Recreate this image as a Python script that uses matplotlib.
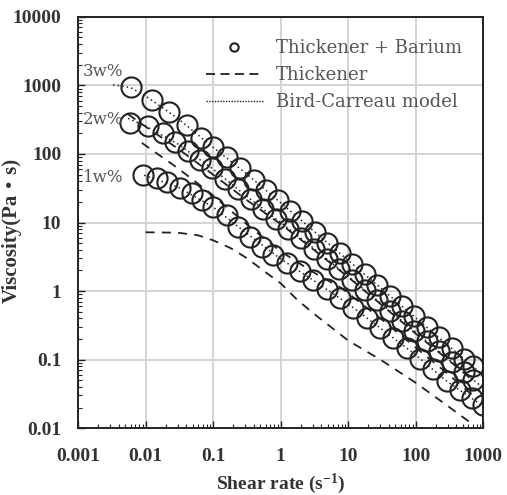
import matplotlib
matplotlib.use("Agg")
import matplotlib.pyplot as plt
from matplotlib.lines import Line2D
from matplotlib import rc
from matplotlib.ticker import LogLocator, NullFormatter

rc('mathtext', default='regular')

# thickener + barium, measured points
rate_3w = [0.0061, 0.0125, 0.022, 0.041, 0.066, 0.1, 0.16, 0.25, 0.4, 0.6, 0.9, 1.4, 2.1,
           3.2, 4.9, 7.5, 11.5, 17.5, 27, 41, 63, 95, 145, 220, 340, 520, 700]
visc_3w = [950, 614, 410, 265, 171, 125, 90, 62, 41.7, 29.7, 21.2, 14.6, 10.4,
           7.3, 5.1, 3.58, 2.5, 1.76, 1.22, 0.86, 0.6, 0.427, 0.3, 0.211, 0.147, 0.103, 0.08]

rate_2w = [0.0059, 0.011, 0.018, 0.027, 0.043, 0.064, 0.095, 0.15, 0.23, 0.36, 0.55, 0.85, 1.3,
           2.0, 3.1, 4.8, 7.4, 11.4, 17.5, 27, 41, 63, 95, 145, 220, 340, 520, 710]
visc_2w = [280, 255, 200, 150, 110, 82, 62, 43, 30.9, 21.9, 15.8, 11.3, 8.15,
           5.86, 4.17, 2.98, 2.1, 1.47, 1.04, 0.73, 0.52, 0.367, 0.263, 0.186, 0.133, 0.093, 0.066, 0.051]

rate_1w = [0.0092, 0.0148, 0.0208, 0.0325, 0.0489, 0.0687, 0.1, 0.161, 0.234, 0.353, 0.531, 0.774,
           1.25, 1.94, 3.03, 4.88, 7.6, 11.9, 19.1, 29.8, 46.4, 74.8, 117, 182, 293, 456, 687, 1000]
visc_1w = [49.4, 44.7, 39, 31.9, 27, 21.3, 16.8, 12.9, 8.6, 6.14, 4.39, 3.36,
           2.56, 1.96, 1.45, 1.07, 0.79, 0.565, 0.404, 0.288, 0.206, 0.147, 0.102, 0.0726, 0.0485, 0.0359, 0.0274, 0.0217]

# thickener only (dashed)
th_rate_3w = [0.0055, 0.01, 0.03, 0.1, 0.3, 1, 3, 10, 30, 100, 300, 700]
th_visc_3w = [380, 250, 120, 50, 22, 9.5, 4.1, 1.6, 0.65, 0.24, 0.1, 0.05]
th_rate_2w = [0.0088, 0.03, 0.09, 0.35, 1, 3, 8, 30, 100, 300, 700]
th_visc_2w = [145, 62, 27, 8.6, 3.8, 1.9, 1.1, 0.4, 0.15, 0.062, 0.03]
th_rate_1w = [0.01, 0.03, 0.06, 0.1, 0.18, 0.32, 0.55, 1, 1.75, 3, 10, 30, 100, 300, 650]
th_visc_1w = [7.2, 7.1, 6.5, 5.5, 4.25, 3.0, 2.0, 1.3, 0.75, 0.48, 0.19, 0.1, 0.046, 0.021, 0.012]

# Bird-Carreau fits (dotted)
bc_rate_3w = [0.0033, 0.006, 0.01, 0.03, 0.1, 0.3, 1, 3, 10, 30, 100, 300, 1000]
bc_visc_3w = [1020, 930, 700, 330, 125, 53, 19.4, 7.7, 2.81, 1.12, 0.407, 0.163, 0.059]
bc_rate_2w = [0.0055, 0.01, 0.03, 0.1, 0.3, 1, 3, 10, 30, 100, 300, 1000]
bc_visc_2w = [330, 255, 140, 60, 25, 10, 4.3, 1.64, 0.67, 0.252, 0.103, 0.0386]
bc_rate_1w = [0.0095, 0.03, 0.1, 0.3, 1, 3, 10, 30, 100, 300, 1000]
bc_visc_1w = [49, 33, 16.8, 7.2, 2.95, 1.45, 0.65, 0.288, 0.117, 0.047, 0.021]

labels = ['3w%', '2w%', '1w%']
label_pos = [(0.00118, 1575), (0.00118, 313), (0.00118, 46)]

ink = '#222222'
grey_text = '#555555'
serif = ['Liberation Serif', 'Noto Sans CJK JP']

fig = plt.figure(figsize=(5.07, 4.95), dpi=100)
ax = fig.add_axes([0.154, 0.135, 0.799, 0.831])
ax.set_xscale('log')
ax.set_yscale('log')
ax.set_xlim(0.001, 1000)
ax.set_ylim(0.01, 10000)

ax.grid(True, which='major', color='#d4d4d4', linewidth=1.4, zorder=0)
ax.set_axisbelow(True)

for r, v in [(th_rate_3w, th_visc_3w), (th_rate_2w, th_visc_2w), (th_rate_1w, th_visc_1w)]:
    ax.plot(r, v, color=ink, linestyle=(0, (5, 4)), linewidth=1.3, zorder=2)
for r, v in [(bc_rate_3w, bc_visc_3w), (bc_rate_2w, bc_visc_2w), (bc_rate_1w, bc_visc_1w)]:
    ax.plot(r, v, color=ink, linestyle=(0, (1, 2)), linewidth=1.1, zorder=2)
for r, v in [(rate_3w, visc_3w), (rate_2w, visc_2w), (rate_1w, visc_1w)]:
    ax.plot(r, v, linestyle='none', marker='o', markersize=14.5, markerfacecolor='none',
            markeredgecolor=ink, markeredgewidth=1.5, zorder=3)

for lab, (x, y) in zip(labels, label_pos):
    ax.text(x, y, lab, fontsize=12, family='DejaVu Serif', color=grey_text,
            va='center', ha='left')

# ticks
ax.xaxis.set_minor_locator(LogLocator(base=10, subs=range(2, 10), numticks=20))
ax.yaxis.set_minor_locator(LogLocator(base=10, subs=range(2, 10), numticks=20))
ax.xaxis.set_minor_formatter(NullFormatter())
ax.yaxis.set_minor_formatter(NullFormatter())
ax.set_xticks([0.001, 0.01, 0.1, 1, 10, 100, 1000])
ax.set_xticklabels(['0.001', '0.01', '0.1', '1', '10', '100', '1000'])
ax.set_yticks([0.01, 0.1, 1, 10, 100, 1000, 10000])
ax.set_yticklabels(['0.01', '0.1', '1', '10', '100', '1000', '10000'])
ax.tick_params(which='major', direction='in', length=5, width=1, colors=ink)
ax.tick_params(which='minor', direction='in', length=3, width=0.8, colors=ink)
ax.tick_params(axis='x', which='major', pad=14)
ax.tick_params(axis='y', which='major', pad=12)
for t in ax.get_xticklabels() + ax.get_yticklabels():
    t.set_family(serif)
    t.set_fontweight('bold')
    t.set_fontsize(14)
    t.set_color('#333333')

for s in ax.spines.values():
    s.set_color(ink)
    s.set_linewidth(1.4)

ax.set_xlabel('Shear rate (s$^{-1}$)', family=serif, fontweight='bold',
              fontsize=14, color='#333333')
ax.xaxis.set_label_coords(0.5, -0.105)
ax.set_ylabel('Viscosity(Pa・s)', family=serif, fontweight='bold',
              fontsize=15, color='#333333')
ax.yaxis.set_label_coords(-0.138, 0.48)

handles = [
    Line2D([], [], linestyle='none', marker='o', markersize=6, markerfacecolor='none',
           markeredgecolor=ink, markeredgewidth=1.5),
    Line2D([], [], color=ink, linestyle=(0, (5, 3)), linewidth=1.3),
    Line2D([], [], color=ink, linestyle=(0, (1, 1)), linewidth=1.0),
]
leg = ax.legend(handles, ['Thickener + Barium', 'Thickener', 'Bird-Carreau model'],
                loc='upper right', bbox_to_anchor=(0.988, 0.985), frameon=False,
                handlelength=3.2, handletextpad=0.7, labelspacing=0.5,
                prop={'family': 'DejaVu Serif', 'size': 13})
for t in leg.get_texts():
    t.set_color(grey_text)

fig.savefig('out.png', dpi=100)
